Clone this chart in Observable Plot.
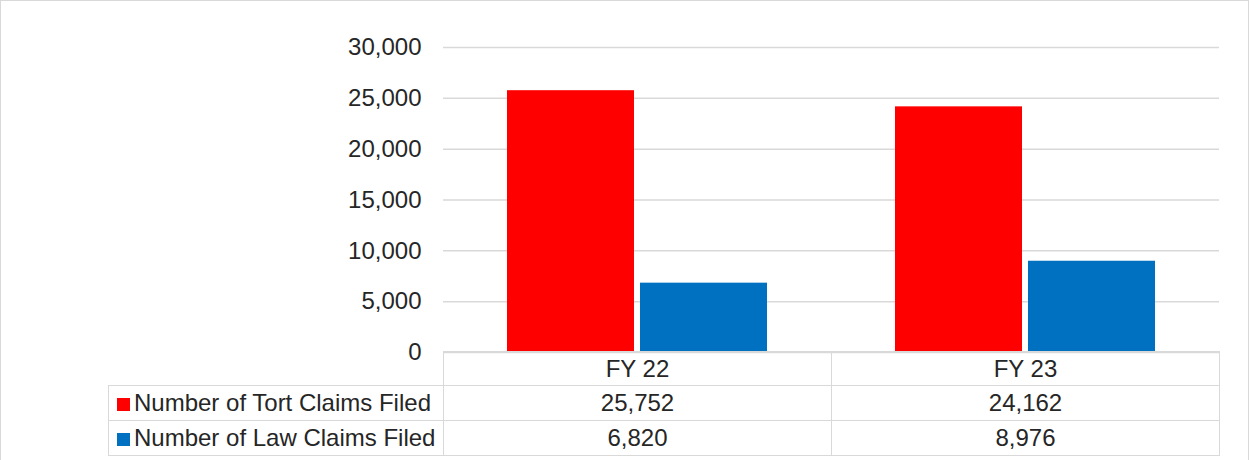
<!DOCTYPE html>
<html>
<head>
<meta charset="utf-8">
<script src="https://cdn.jsdelivr.net/npm/d3@7"></script>
<script src="https://cdn.jsdelivr.net/npm/@observablehq/plot@0.6"></script>
<style>
  html, body { margin: 0; padding: 0; background: #fff; }
  #wrap { position: relative; width: 1249px; height: 460px; overflow: hidden; font-family: "Liberation Sans", Arial, sans-serif; color: #262626; }
  #frame { position: absolute; left: 0; top: 0; width: 1247px; height: 470px; border: 1px solid #d9d9d9; pointer-events: none; }
  #chart { position: absolute; left: 0; top: 0; }
  table { position: absolute; left: 108px; top: 351px; border-collapse: collapse; table-layout: fixed; font-size: 24px; color: #262626; }
  td { border: 1.5px solid #d9d9d9; padding: 0; text-align: center; white-space: nowrap; }
  tr.h td { height: 33px; }
  tr.r td { height: 34px; }
  td.lab { text-align: left; padding-left: 8px; }
  td.empty { border: none; }
  .sw { display: inline-block; width: 13px; height: 13px; margin-right: 4px; vertical-align: 0px; }
</style>
</head>
<body>
<div id="wrap">
  <div id="chart"></div>
  <div id="frame"></div>
</div>
<script>
const categories = ["FY 22", "FY 23"];
const seriesNames = ["Number of Tort Claims Filed", "Number of Law Claims Filed"];
const tortClaims = [25752, 24162];
const lawClaims = [6820, 8976];
const seriesColors = ["#FF0000", "#0070C0"];
const yTicks = [0, 5000, 10000, 15000, 20000, 25000, 30000];

const fmt = d3.format(",");
const tortData = categories.map((c, i) => ({cat: c, value: tortClaims[i]}));
const lawData = categories.map((c, i) => ({cat: c, value: lawClaims[i]}));

const plot = Plot.plot({
  width: 1249,
  height: 460,
  marginLeft: 443,
  marginRight: 30,
  marginTop: 47,
  marginBottom: 108,
  style: {fontFamily: "'Liberation Sans', Arial, sans-serif", fontSize: "24px", color: "#262626", background: "transparent"},
  x: {type: "band", domain: categories, padding: 0, axis: null},
  y: {domain: [0, 30000]},
  marks: [
    Plot.gridY(yTicks, {stroke: "#d9d9d9", strokeOpacity: 1, strokeWidth: 1.5}),
    Plot.axisY(yTicks, {tickSize: 0, tickPadding: 22, tickFormat: fmt, fontSize: 24, fill: "#262626", label: null}),
    Plot.barY(tortData, {x: "cat", y: "value", fill: seriesColors[0], insetLeft: 64, insetRight: 197}),
    Plot.barY(lawData, {x: "cat", y: "value", fill: seriesColors[1], insetLeft: 197, insetRight: 64})
  ]
});
document.getElementById("chart").appendChild(plot);

// data table below the chart
const table = document.createElement("table");
const cg = document.createElement("colgroup");
[335, 388, 388].forEach(w => { const c = document.createElement("col"); c.style.width = w + "px"; cg.appendChild(c); });
table.appendChild(cg);
const hr = document.createElement("tr"); hr.className = "h";
const e = document.createElement("td"); e.className = "empty"; hr.appendChild(e);
categories.forEach(c => { const td = document.createElement("td"); td.textContent = c; hr.appendChild(td); });
table.appendChild(hr);
[tortClaims, lawClaims].forEach((vals, s) => {
  const tr = document.createElement("tr"); tr.className = "r";
  const lab = document.createElement("td"); lab.className = "lab";
  const sw = document.createElement("span"); sw.className = "sw"; sw.style.background = seriesColors[s];
  lab.appendChild(sw); lab.appendChild(document.createTextNode(seriesNames[s]));
  tr.appendChild(lab);
  vals.forEach(v => { const td = document.createElement("td"); td.textContent = fmt(v); tr.appendChild(td); });
  table.appendChild(tr);
});
document.getElementById("wrap").appendChild(table);
</script>
</body>
</html>
